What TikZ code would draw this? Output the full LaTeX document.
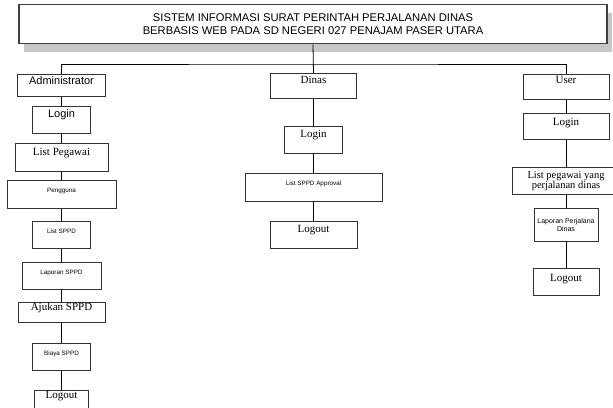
\documentclass[tikz,border=0pt]{standalone}
\usepackage{fontspec}
\setmainfont{Liberation Serif}
\newfontfamily\arialfont{Liberation Sans}
\usetikzlibrary{shadows}
\tikzset{
  kotak/.style={draw=black!80, line width=0.8pt, inner sep=0pt, anchor=north, fill=white},
  besar/.style={font=\fontsize{11pt}{13pt}\selectfont},
  besarsans/.style={font=\arialfont\fontsize{11pt}{13pt}\selectfont},
  kecil/.style={font=\arialfont\fontsize{6.3pt}{7.5pt}\selectfont},
  garis/.style={draw=black, line width=0.8pt}
}
\begin{document}
\begin{tikzpicture}[x=1pt, y=-1pt]
            \useasboundingbox (0,0) rectangle (613,407);
            \node[draw=black!75, line width=1.6pt, fill=white, minimum width=588pt, minimum height=39pt, inner sep=0pt, align=center,
              font=\arialfont\fontsize{11.2pt}{13pt}\selectfont,
              drop shadow={shadow xshift=5pt, shadow yshift=-8pt, fill=black!22, opacity=1}] (T) at (313,24)
              {SISTEM INFORMASI SURAT PERINTAH PERJALANAN DINAS\\BERBASIS WEB PADA SD NEGERI 027 PENAJAM PASER UTARA};
            \coordinate (bus) at (313,64);

            \node[kotak, besarsans, minimum width=88pt, text height=10pt, text depth=12pt] (A) at (61.5,74) {Administrator};
            \node[kotak, besarsans, minimum width=58pt, text height=11pt, text depth=16pt] (A1) at (61.5,106) {Login};
            \node[kotak, besar, minimum width=93pt, text height=12pt, text depth=16pt] (A2) at (61.5,143) {List Pegawai};
            \node[kotak, kecil, minimum width=109pt, text height=12pt, text depth=16pt] (A3) at (61.5,180) {Pengguna};
            \node[kotak, kecil, minimum width=58pt, text height=12pt, text depth=15pt] (A4) at (61.5,221) {List SPPD};
            \node[kotak, kecil, minimum width=79pt, text height=12pt, text depth=15pt] (A5) at (61.5,262) {Laporan SPPD};
            \node[kotak, besar, minimum width=87pt, text height=8pt, text depth=12pt] (A6) at (61.5,302) {Ajukan SPPD};
            \node[kotak, kecil, minimum width=58pt, text height=12pt, text depth=15pt] (A7) at (61.5,343) {Biaya SPPD};
            \node[kotak, besar, minimum width=54pt, text height=8pt, text depth=19pt] (A8) at (61.5,390) {Logout};

            \node[kotak, besar, minimum width=86pt, text height=10pt, text depth=15pt] (D) at (313.5,73) {Dinas};
            \node[kotak, besar, minimum width=58pt, text height=11pt, text depth=16pt] (D1) at (313.5,126) {Login};
            \node[kotak, kecil, minimum width=137pt, text height=12pt, text depth=16pt] (D2) at (313.5,173) {List SPPD Approval};
            \node[kotak, besar, minimum width=87pt, text height=11pt, text depth=16pt] (D3) at (313.5,221) {Logout};

            \node[kotak, besar, minimum width=86pt, text height=9pt, text depth=16pt] (U) at (566,74) {User};
            \node[kotak, besar, minimum width=86pt, text height=12pt, text depth=14pt] (U1) at (566,113) {Login};
            \node[kotak, minimum width=108pt, minimum height=27pt, align=center, font=\fontsize{10.5pt}{10pt}\selectfont] (U2) at (566,167) {List pegawai yang\\perjalanan dinas};
            \node[kotak, minimum width=64pt, minimum height=33pt, align=center, font=\arialfont\fontsize{7pt}{8pt}\selectfont] (U3) at (566,208) {Laporan Perjalana\\Dinas};
            \node[kotak, besar, minimum width=66pt, text height=13pt, text depth=14pt] (U4) at (566,268) {Logout};

            \draw[garis] (T.south) -- (D.north);
            \draw[garis] (A.north) |- (bus) -| (U.north);

            \draw[garis] (A) -- (A1);
            \draw[garis] (A1) -- (A2);
            \draw[garis] (A2) -- (A3);
            \draw[garis] (A3) -- (A4);
            \draw[garis] (A4) -- (A5);
            \draw[garis] (A5) -- (A6);
            \draw[garis] (A6) -- (A7);
            \draw[garis] (A7) -- (A8);

            \draw[garis] (D) -- (D1);
            \draw[garis] (D1) -- (D2);
            \draw[garis] (D2) -- (D3);

            \draw[garis] (U) -- (U1);
            \draw[garis] (U1) -- (U2);
            \draw[garis] (U2) -- (U3);
            \draw[garis] (U3) -- (U4);
        \end{tikzpicture}
\end{document}
